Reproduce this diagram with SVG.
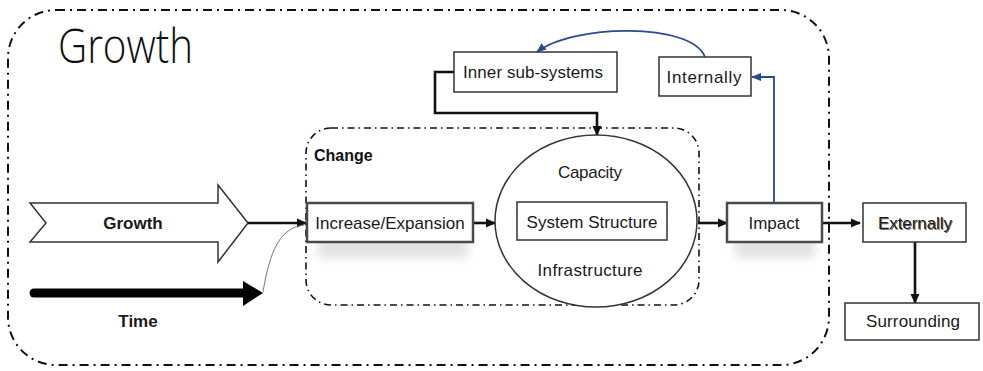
<svg xmlns="http://www.w3.org/2000/svg" width="983" height="371" viewBox="0 0 983 371">
  <defs>
    <style>
      .lbl { font-family: "Liberation Sans", Arial, sans-serif; font-size: 17px; fill: #1a1a1a; text-anchor: middle; dominant-baseline: central; }
      .bold { font-weight: bold; }
      .box { fill: #ffffff; stroke: #333333; stroke-width: 1.5; }
      .boxd { fill: #ffffff; stroke: #4a4a4a; stroke-width: 2.5; }
      .dashbig { fill: none; stroke: #111111; stroke-width: 2; stroke-dasharray: 9 5 2 5; }
      .dashsm { fill: none; stroke: #111111; stroke-width: 1.6; stroke-dasharray: 7 4 1.5 4; }
      .conn { fill: none; stroke: #111111; stroke-width: 2.6; }
      .blue { fill: none; stroke: #2a4a8e; stroke-width: 1.8; }
    </style>
    <marker id="ah" markerWidth="10" markerHeight="10" refX="9" refY="5" orient="auto" markerUnits="userSpaceOnUse">
      <path d="M0,0.5 L10,5 L0,9.5 Z" fill="#111111"/>
    </marker>
    <marker id="ahb" markerWidth="10" markerHeight="10" refX="9" refY="5" orient="auto" markerUnits="userSpaceOnUse">
      <path d="M0,1 L10,5 L0,9 Z" fill="#2a4a8e"/>
    </marker>
    <filter id="soft" x="-20%" y="-50%" width="140%" height="200%">
      <feGaussianBlur stdDeviation="5"/>
    </filter>
  </defs>

  <!-- outer growth boundary -->
  <rect class="dashbig" x="8" y="10" width="821" height="355" rx="48"/>
  <text x="58" y="63" font-family="Open Sans, Liberation Sans, Arial, sans-serif" font-weight="300" font-size="48" fill="#111111" textLength="135" lengthAdjust="spacingAndGlyphs">Growth</text>

  <!-- change boundary -->
  <rect class="dashsm" x="306" y="128" width="393" height="177" rx="25"/>
  <text x="314" y="161" font-family="Liberation Sans, Arial, sans-serif" font-size="16" font-weight="bold" fill="#111111">Change</text>

  <!-- growth arrow -->
  <g id="growth-arrow">
    <path d="M30,203 L218,203 L218,185 L248,223 L218,262 L218,242 L30,242 L46,223 Z" fill="#ffffff" stroke="#333333" stroke-width="1.5"/>
    <text class="lbl bold" x="133" y="223" font-size="17">Growth</text>
  </g>

  <!-- time arrow -->
  <g id="time-arrow">
    <line x1="34" y1="293" x2="246" y2="293" stroke="#000000" stroke-width="9" stroke-linecap="round"/>
    <path d="M243,281 L263,293 L243,306 Z" fill="#000000"/>
    <text class="lbl bold" x="138" y="321" font-size="17">Time</text>
  </g>

  <!-- connectors -->
  <g id="connectors">
    <line class="conn" x1="248" y1="223" x2="306" y2="223" stroke-width="3" marker-end="url(#ah)"/>
    <path d="M263,292 C270,250 280,228 304,225" fill="none" stroke="#777777" stroke-width="1"/>
    <line class="conn" x1="473" y1="223" x2="495" y2="223" marker-end="url(#ah)"/>
    <line class="conn" x1="698" y1="223" x2="727" y2="223" marker-end="url(#ah)"/>
    <line class="conn" x1="822" y1="223" x2="860" y2="223" stroke-width="3.2" marker-end="url(#ah)"/>
    <line class="conn" x1="915" y1="242" x2="915" y2="303" marker-end="url(#ah)"/>
    <path class="conn" d="M454,72 L435,72 L435,113 L597,113 L597,135" marker-end="url(#ah)"/>
    <path class="blue" d="M774,203 L774,77 L752,77" marker-end="url(#ahb)"/>
    <path class="blue" d="M705,57 C692,22 572,24 537,52" marker-end="url(#ahb)"/>
  </g>

  <g id="increase">
    <rect x="318" y="238" width="150" height="20" fill="#cfcfcf" filter="url(#soft)" opacity="0.6"/>
    <rect class="boxd" x="307" y="203" width="166" height="39"/>
    <text class="lbl" x="390" y="223">Increase/Expansion</text>
  </g>

  <g id="system">
    <ellipse cx="596" cy="221" rx="101" ry="86" fill="#ffffff" stroke="#333333" stroke-width="1.5"/>
    <text class="lbl" x="590" y="172" textLength="64">Capacity</text>
    <rect class="box" x="517" y="202" width="150" height="38"/>
    <text class="lbl" x="592" y="222" textLength="131">System Structure</text>
    <text class="lbl" x="590" y="270" textLength="105">Infrastructure</text>
  </g>

  <g id="impact">
    <rect x="735" y="238" width="80" height="20" fill="#cfcfcf" filter="url(#soft)" opacity="0.6"/>
    <rect class="boxd" x="727" y="203" width="95" height="39"/>
    <text class="lbl" x="774" y="223">Impact</text>
  </g>

  <g id="externally">
    <rect class="box" x="863" y="203" width="103" height="39"/>
    <text class="lbl" x="916" y="224" fill="#bbbbbb" opacity="0.6" textLength="74">Externally</text>
    <text class="lbl" x="915" y="223" textLength="74">Externally</text>
  </g>

  <g id="surrounding">
    <rect class="box" x="845" y="303" width="134" height="37"/>
    <text class="lbl" x="913" y="321" textLength="94">Surrounding</text>
  </g>

  <g id="inner">
    <rect class="box" x="454" y="52" width="163" height="40"/>
    <text class="lbl" x="533" y="72" textLength="140">Inner sub-systems</text>
  </g>

  <g id="internally">
    <rect class="box" x="659" y="57" width="92" height="39"/>
    <text class="lbl" x="704" y="77" textLength="75">Internally</text>
  </g>
</svg>
